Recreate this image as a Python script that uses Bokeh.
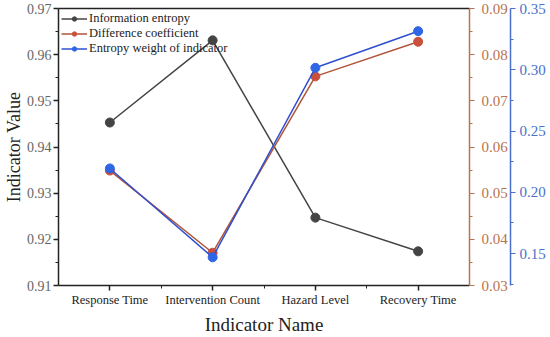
from bokeh.plotting import figure
from bokeh.models import Range1d, LinearAxis, FixedTicker, Legend, LegendItem, PrintfTickFormatter
from bokeh.embed import file_html
from bokeh.resources import INLINE

categories = ["Response Time", "Intervention Count", "Hazard Level", "Recovery Time"]
info_entropy = [0.9453, 0.9631, 0.9247, 0.9174]
diff_coef = [0.0549, 0.0371, 0.0753, 0.0828]
entropy_weight = [0.2195, 0.1470, 0.3016, 0.3315]

left_ticks = [0.91, 0.92, 0.93, 0.94, 0.95, 0.96, 0.97]
left_minor = [0.915, 0.925, 0.935, 0.945, 0.955, 0.965]
red_ticks = [0.03, 0.04, 0.05, 0.06, 0.07, 0.08, 0.09]
red_minor = [0.035, 0.045, 0.055, 0.065, 0.075, 0.085]
blue_ticks = [0.15, 0.20, 0.25, 0.30, 0.35]
blue_minor = [0.125, 0.175, 0.225, 0.275, 0.325]

BLACK = "#444444"
RED_LINE = "#B0553A"
RED_MARK = "#C8503C"
RED_AXIS = "#B8734F"
BLUE_LINE = "#2F4FD0"
BLUE_MARK = "#2E66E6"
BLUE_AXIS = "#4A6FCC"

NUM_FONT = "Liberation Serif"
TXT_FONT = "Liberation Serif"

xs = list(range(len(categories)))

p = figure(width=548, height=337, output_backend="svg", toolbar_location=None,
           x_range=Range1d(-0.5, len(categories) - 0.5),
           y_range=Range1d(0.91, 0.97),
           min_border_left=0, min_border_right=2, min_border_top=8, min_border_bottom=0)
p.extra_y_ranges = {"red": Range1d(0.03, 0.09), "blue": Range1d(0.124, 0.35)}
p.xgrid.visible = False
p.ygrid.visible = False
p.outline_line_color = None
p.background_fill_color = "white"
p.border_fill_color = "white"

# left axis
la = p.yaxis[0]
la.ticker = FixedTicker(ticks=left_ticks, minor_ticks=left_minor)
la.axis_label = "Indicator Value"
la.axis_label_text_font = TXT_FONT
la.axis_label_text_font_size = "18px"
la.axis_label_text_font_style = "normal"
la.axis_label_text_color = "#222222"
la.axis_label_standoff = 0
la.major_label_text_font = NUM_FONT
la.major_label_text_font_size = "14px"
la.major_label_text_color = "#666666"
la.major_label_standoff = 2
la.axis_line_color = "#222222"
la.axis_line_width = 1.5
la.major_tick_in = 0
la.major_tick_out = 5
la.minor_tick_in = 0
la.minor_tick_out = 3
la.major_tick_line_color = "#222222"
la.minor_tick_line_color = "#222222"
la.major_tick_line_width = 1.5

# bottom axis
ba = p.xaxis[0]
ba.ticker = FixedTicker(ticks=xs, minor_ticks=[i + 0.5 for i in xs[:-1]])
ba.major_label_overrides = {i: c for i, c in zip(xs, categories)}
ba.axis_label = "Indicator Name"
ba.axis_label_text_font = TXT_FONT
ba.axis_label_text_font_size = "19px"
ba.axis_label_text_font_style = "normal"
ba.axis_label_text_color = "#222222"
ba.axis_label_standoff = 4
ba.major_label_text_font = TXT_FONT
ba.major_label_text_font_size = "12.5px"
ba.major_label_text_color = "#222222"
ba.major_label_standoff = 2
ba.axis_line_color = "#222222"
ba.axis_line_width = 1.5
ba.major_tick_in = 0
ba.major_tick_out = 5
ba.minor_tick_in = 0
ba.minor_tick_out = 3
ba.major_tick_line_color = "#222222"
ba.minor_tick_line_color = "#222222"
ba.major_tick_line_width = 1.5

# top line
ta = LinearAxis(ticker=FixedTicker(ticks=[]), major_label_text_font_size="0px",
                major_tick_line_color=None, minor_tick_line_color=None,
                axis_line_color="#222222", axis_line_width=1.5)
p.add_layout(ta, "above")

# red axis
ra = LinearAxis(y_range_name="red", ticker=FixedTicker(ticks=red_ticks, minor_ticks=red_minor))
ra.formatter = PrintfTickFormatter(format="%.2f")
ra.axis_line_color = RED_AXIS
ra.axis_line_width = 1.5
ra.major_tick_line_color = RED_AXIS
ra.minor_tick_line_color = RED_AXIS
ra.major_tick_in = 0
ra.major_tick_out = 5
ra.minor_tick_in = 0
ra.minor_tick_out = 3
ra.major_label_text_font = NUM_FONT
ra.major_label_text_font_size = "15px"
ra.major_label_text_color = RED_AXIS
ra.major_label_standoff = 7
p.add_layout(ra, "right")

# blue axis
bl = LinearAxis(y_range_name="blue", ticker=FixedTicker(ticks=blue_ticks, minor_ticks=blue_minor))
bl.formatter = PrintfTickFormatter(format="%.2f")
bl.axis_line_color = BLUE_AXIS
bl.axis_line_width = 1.5
bl.major_tick_line_color = BLUE_AXIS
bl.minor_tick_line_color = BLUE_AXIS
bl.major_tick_in = 0
bl.major_tick_out = 5
bl.minor_tick_in = 0
bl.minor_tick_out = 3
bl.major_label_text_font = NUM_FONT
bl.major_label_text_font_size = "15px"
bl.major_label_text_color = BLUE_AXIS
bl.major_label_standoff = 4
p.add_layout(bl, "right")

# series
l1 = p.line(xs, info_entropy, line_color=BLACK, line_width=1.5)
c1 = p.scatter(xs, info_entropy, size=9, fill_color=BLACK, line_color=BLACK)
l2 = p.line(xs, diff_coef, line_color=RED_LINE, line_width=1.5, y_range_name="red")
c2 = p.scatter(xs, diff_coef, size=9, fill_color=RED_MARK, line_color=RED_MARK, y_range_name="red")
l3 = p.line(xs, entropy_weight, line_color=BLUE_LINE, line_width=1.5, y_range_name="blue")
c3 = p.scatter(xs, entropy_weight, size=9, fill_color=BLUE_MARK, line_color=BLUE_MARK, y_range_name="blue")

legend = Legend(items=[
    LegendItem(label="Information entropy", renderers=[l1, c1]),
    LegendItem(label="Difference coefficient", renderers=[l2, c2]),
    LegendItem(label="Entropy weight of indicator", renderers=[l3, c3]),
], location="top_left")
legend.border_line_color = None
legend.background_fill_alpha = 0
legend.label_text_font = TXT_FONT
legend.label_text_font_size = "12.5px"
legend.label_text_color = "#222222"
legend.glyph_width = 26
legend.glyph_height = 11
legend.label_height = 11
legend.label_standoff = 2
legend.spacing = 0
legend.padding = 2
legend.margin = 3
p.add_layout(legend)

open("out.html", "w").write(file_html(p, INLINE))
